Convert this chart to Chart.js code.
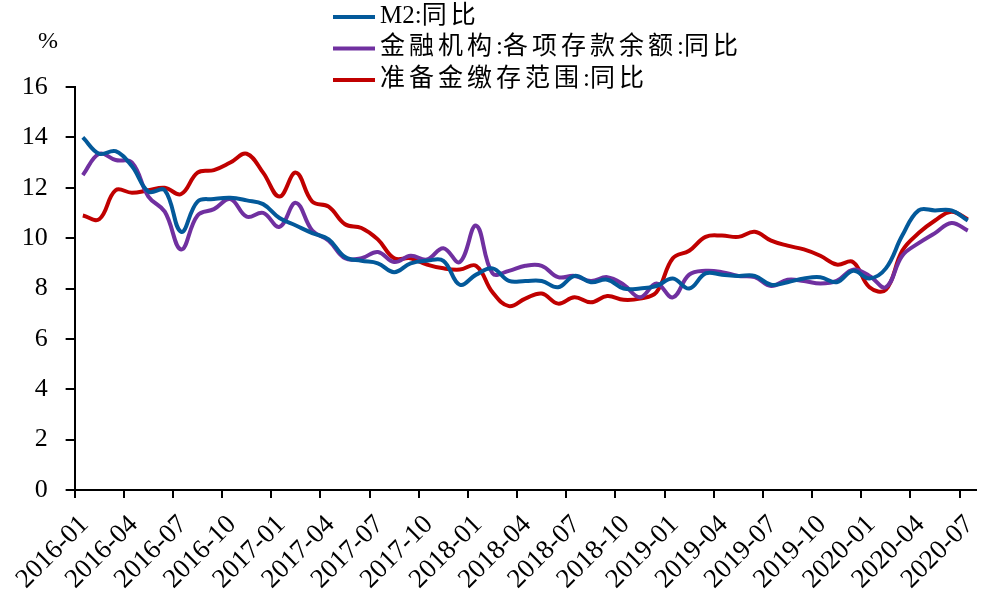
<!DOCTYPE html>
<html>
<head>
<meta charset="utf-8">
<script src="https://cdn.jsdelivr.net/npm/chart.js@4.4.1/dist/chart.umd.min.js"></script>
<style>
  html, body { margin: 0; padding: 0; background: #fff; }
  #wrap { width: 1005px; height: 603px; }
</style>
</head>
<body>
<div id="wrap"><canvas id="myChart" width="1005" height="603"></canvas></div>
<script>
const months = [
  '2016-01','2016-02','2016-03','2016-04','2016-05','2016-06','2016-07','2016-08','2016-09','2016-10','2016-11','2016-12',
  '2017-01','2017-02','2017-03','2017-04','2017-05','2017-06','2017-07','2017-08','2017-09','2017-10','2017-11','2017-12',
  '2018-01','2018-02','2018-03','2018-04','2018-05','2018-06','2018-07','2018-08','2018-09','2018-10','2018-11','2018-12',
  '2019-01','2019-02','2019-03','2019-04','2019-05','2019-06','2019-07','2019-08','2019-09','2019-10','2019-11','2019-12',
  '2020-01','2020-02','2020-03','2020-04','2020-05','2020-06','2020-07'
];

const tickLabels = [
  '2016-01','2016-04','2016-07','2016-10','2017-01','2017-04','2017-07','2017-10',
  '2018-01','2018-04','2018-07','2018-10','2019-01','2019-04','2019-07','2019-10',
  '2020-01','2020-04','2020-07'
];

const yTicks = [0, 2, 4, 6, 8, 10, 12, 14, 16];

// M2:同比
const m2 = [
  14.0, 13.35, 13.45, 12.85, 11.85, 11.9, 10.25, 11.45, 11.55, 11.6, 11.5, 11.35,
  10.8, 10.5, 10.2, 9.95, 9.25, 9.1, 9.0, 8.65, 9.0, 9.1, 9.1, 8.15,
  8.55, 8.8, 8.3, 8.3, 8.3, 8.05, 8.5, 8.25, 8.35, 8.0, 8.0, 8.1,
  8.4, 8.0, 8.6, 8.55, 8.5, 8.5, 8.15, 8.25, 8.4, 8.45, 8.25, 8.7,
  8.4, 8.8, 10.1, 11.1, 11.1, 11.1, 10.7
];

// 金融机构:各项存款余额:同比
const deposits = [
  12.5, 13.35, 13.1, 13.0, 11.65, 11.05, 9.55, 10.9, 11.15, 11.55, 10.85, 11.0,
  10.45, 11.4, 10.3, 9.9, 9.2, 9.2, 9.45, 9.05, 9.3, 9.15, 9.6, 9.05,
  10.5, 8.6, 8.7, 8.9, 8.9, 8.45, 8.5, 8.3, 8.45, 8.15, 7.65, 8.2,
  7.65, 8.55, 8.7, 8.65, 8.5, 8.45, 8.1, 8.35, 8.3, 8.2, 8.3, 8.75,
  8.5, 8.05, 9.3, 9.8, 10.2, 10.6, 10.3
];

// 准备金缴存范围:同比
const reserveBase = [
  10.9, 10.75, 11.9, 11.8, 11.9, 12.0, 11.75, 12.6, 12.7, 13.0, 13.35, 12.6,
  11.65, 12.6, 11.45, 11.25, 10.55, 10.4, 9.95, 9.2, 9.2, 8.95, 8.8, 8.75,
  8.9, 7.85, 7.3, 7.6, 7.8, 7.4, 7.65, 7.45, 7.7, 7.55, 7.6, 7.85,
  9.2, 9.5, 10.05, 10.1, 10.05, 10.25, 9.9, 9.7, 9.55, 9.3, 8.95, 9.05,
  8.05, 7.95, 9.5, 10.2, 10.7, 11.05, 10.75
];

const seriesNames = ['M2:同比', '金融机构:各项存款余额:同比', '准备金缴存范围:同比'];

const serif = '"Liberation Serif", "Times New Roman", serif';
const legendFont = '"Liberation Serif", "Noto Sans CJK SC", serif';

function points(values) {
  return values.map((v, i) => ({ x: i, y: v }));
}

// write a label char by char, CJK glyphs get a bit of extra room like the original
function drawSpaced(ctx, text, x, y) {
  for (const ch of text) {
    ctx.fillText(ch, x, y);
    x += ctx.measureText(ch).width;
    if (/[\u3400-\u9fff]/.test(ch)) x += 4;
  }
}

// legend and unit label drawn on top, stacked like the original
const overlay = {
  id: 'overlay',
  afterDraw(chart) {
    const ctx = chart.ctx;
    ctx.save();
    ctx.font = '24px ' + serif;
    ctx.fillStyle = '#000';
    ctx.textAlign = 'left';
    ctx.textBaseline = 'middle';
    ctx.fillText('%', 38, 42);

    chart.data.datasets.forEach((ds, i) => {
      const y = 16 + 31.5 * i;
      ctx.strokeStyle = ds.borderColor;
      ctx.lineWidth = 4;
      ctx.beginPath();
      ctx.moveTo(333, y + 1);
      ctx.lineTo(375, y + 1);
      ctx.stroke();
      ctx.fillStyle = '#000';
      ctx.font = '25px ' + legendFont;
      drawSpaced(ctx, ds.label, 380, y);
    });
    ctx.restore();
  }
};

const config = {
  type: 'line',
  data: {
    datasets: [
      { label: seriesNames[0], data: points(m2), borderColor: '#03599A' },
      { label: seriesNames[1], data: points(deposits), borderColor: '#7030A0' },
      { label: seriesNames[2], data: points(reserveBase), borderColor: '#C00000' }
    ]
  },
  options: {
    responsive: false,
    animation: false,
    layout: { padding: { top: 87, right: 29, left: 0, bottom: 0 } },
    elements: {
      line: { borderWidth: 4, tension: 0.4, fill: false },
      point: { radius: 0, hoverRadius: 0 }
    },
    plugins: {
      legend: { display: false },
      tooltip: { enabled: false }
    },
    scales: {
      x: {
        type: 'linear',
        min: -0.5,
        max: months.length - 0.5,
        afterBuildTicks(scale) {
          scale.ticks = tickLabels.map(t => ({ value: months.indexOf(t) - 0.5 }));
        },
        afterFit(scale) { scale.height = 113; },
        border: { display: true, color: '#000', width: 2 },
        grid: { display: true, drawOnChartArea: false, drawTicks: true, tickLength: 8, tickColor: '#000', lineWidth: 2 },
        ticks: {
          autoSkip: false,
          minRotation: 45,
          maxRotation: 45,
          padding: 11,
          labelOffset: 10,
          color: '#000',
          font: { family: serif, size: 27 },
          callback: (v, idx) => tickLabels[idx]
        }
      },
      y: {
        min: 0,
        max: 16,
        afterBuildTicks(scale) {
          scale.ticks = yTicks.map(v => ({ value: v }));
        },
        afterFit(scale) { scale.width = 72.5; },
        border: { display: true, color: '#000', width: 2 },
        grid: { display: true, drawOnChartArea: false, drawTicks: true, tickLength: 9, tickColor: '#000', lineWidth: 2 },
        ticks: {
          padding: 18,
          color: '#000',
          font: { family: serif, size: 26 }
        }
      }
    }
  },
  plugins: [overlay]
};

new Chart(document.getElementById('myChart'), config);
</script>
</body>
</html>
